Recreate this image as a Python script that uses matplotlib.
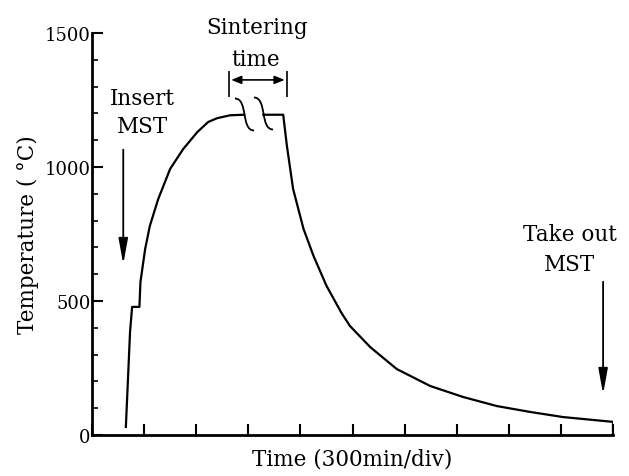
import matplotlib
matplotlib.use('Agg')
import matplotlib.pyplot as plt
from matplotlib.path import Path
from matplotlib.ticker import MultipleLocator

# heating curve (x in divisions of 300 min), up to the time break
heat_time = [0.65, 0.73, 0.77, 0.91, 0.93, 1.02, 1.11, 1.27, 1.50, 1.75, 2.02, 2.23, 2.40, 2.65, 2.92]
heat_temp = [30, 384, 478, 478, 571, 694, 780, 880, 993, 1067, 1130, 1168, 1182, 1193, 1195]

# after the break: end of sintering plateau and cooling
cool_time = [3.29, 3.67, 3.74, 3.86, 4.06, 4.25, 4.50, 4.79, 4.95, 5.34, 5.85, 6.49, 7.12, 7.77, 8.41, 9.04, 10.0]
cool_temp = [1195, 1195, 1080, 918, 769, 669, 557, 455, 407, 328, 246, 183, 142, 108, 86, 67, 49]

break_time = [2.92, 3.29]
break_temp = [1198, 1200]

y_ticks = [0, 500, 1000, 1500]

tick_font = {'family': 'DejaVu Serif', 'size': 13}
font = {'family': 'DejaVu Serif', 'size': 15.5}

fig = plt.figure(figsize=(6.29, 4.77), dpi=100)
ax = fig.add_axes([92/629, 41/477, 521/629, 402/477])

ax.plot(heat_time, heat_temp, color='black', lw=1.6)
ax.plot(cool_time, cool_temp, color='black', lw=1.6)
ax.vlines(cool_time[-1], 0, cool_temp[-1], color='black', lw=1.6)

# wavy break marks
s_mark = Path([(-0.3, 0.5), (0.12, 0.5), (-0.12, -0.5), (0.3, -0.5)],
              [Path.MOVETO, Path.CURVE4, Path.CURVE4, Path.CURVE4])
ax.plot(break_time, break_temp, ls='none', marker=s_mark, markersize=23,
        mfc='none', mec='black', mew=1.3)

ax.set_xlim(0, 10)
ax.set_ylim(0, 1500)
ax.set_yticks(y_ticks)
ax.set_yticklabels([str(v) for v in y_ticks], fontdict=tick_font)
ax.yaxis.set_minor_locator(MultipleLocator(100))
ax.xaxis.set_major_locator(MultipleLocator(1))
ax.set_xticklabels([])
ax.tick_params(axis='y', which='major', direction='in', length=8, width=1.5, pad=1)
ax.tick_params(axis='y', which='minor', direction='in', length=4, width=1.2)
ax.tick_params(axis='x', which='major', direction='in', length=8, width=1.5, labelbottom=False)

for s in ['top', 'right']:
    ax.spines[s].set_visible(False)
ax.spines['left'].set_linewidth(2)
ax.spines['bottom'].set_linewidth(2)

ax.set_xlabel('Time (300min/div)', fontdict=font, labelpad=9)
ax.set_ylabel('Temperature ( °C)', fontdict=font, labelpad=4)

# annotations
ax.text(0.96, 1257, 'Insert', ha='center', va='center', fontdict=font)
ax.text(0.96, 1153, 'MST', ha='center', va='center', fontdict=font)
ax.annotate('', xy=(0.60, 627), xytext=(0.60, 1075),
            arrowprops=dict(arrowstyle='-|>,head_length=1.1,head_width=0.2',
                            color='black', lw=1.3, mutation_scale=14))

ax.text(9.17, 750, 'Take out', ha='center', va='center', fontdict=font)
ax.text(9.17, 638, 'MST', ha='center', va='center', fontdict=font)
ax.annotate('', xy=(9.81, 142), xytext=(9.81, 582),
            arrowprops=dict(arrowstyle='-|>,head_length=1.1,head_width=0.2',
                            color='black', lw=1.3, mutation_scale=14))

ax.text(3.17, 1522, 'Sintering', ha='center', va='center', fontdict=font, clip_on=False)
ax.text(3.15, 1403, 'time', ha='center', va='center', fontdict=font)
ax.annotate('', xy=(2.67, 1325), xytext=(3.70, 1325),
            arrowprops=dict(arrowstyle='<|-|>,head_length=0.5,head_width=0.2',
                            color='black', lw=1.2, mutation_scale=12, shrinkA=0, shrinkB=0))
ax.vlines([2.63, 3.74], 1261, 1358, color='black', lw=1.2)

fig.savefig('out.png', dpi=100)
